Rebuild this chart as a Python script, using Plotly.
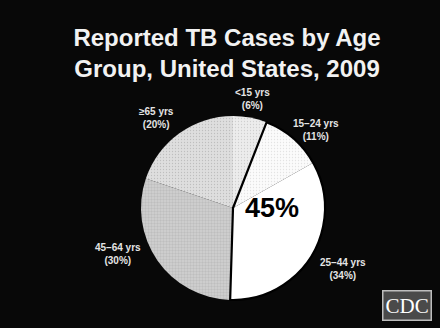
import plotly.graph_objects as go

# Data
age_groups = ["<15 yrs", "15–24 yrs", "25–44 yrs", "45–64 yrs", "≥65 yrs"]
percents = [6, 11, 34, 30, 20]
highlight_groups = ["<15", "15–44", "rest"]
highlight_values = [6, 45, 50]
highlight_label = "45%"

labels_text = [f"{a}<br>({p}%)" for a, p in zip(age_groups, percents)]
# label anchor positions (paper fractions) for each age-group label
label_x = [0.575, 0.718, 0.780, 0.268, 0.355]
label_y = [0.698, 0.604, 0.180, 0.226, 0.640]

fill_colors = ["#ececec", "#fbfbfb", "#ffffff", "#cdcdcd", "#dedede"]
pattern_fg = ["#bcbcbc", "#d4d4d4", "#ffffff", "#8c8c8c", "#a8a8a8"]
pattern_shapes = [".", ".", "", "+", "."]

dom_x = [(233 - 92) / 440, (233 + 92) / 440]
dom_y = [(120 - 92) / 328, (120 + 92) / 328]

fig = go.Figure()
fig.add_trace(go.Pie(
    labels=age_groups,
    values=percents,
    textinfo="none",
    sort=False,
    direction="clockwise",
    rotation=0,
    domain=dict(x=dom_x, y=dom_y),
    marker=dict(
        colors=fill_colors,
        line=dict(width=0),
        pattern=dict(shape=pattern_shapes, fgcolor=pattern_fg, fillmode="overlay",
                     size=3, solidity=0.15, fgopacity=0.6),
    ),
    showlegend=False,
    hoverinfo="skip",
))
# Outline of the 15–44 group (45%)
fig.add_trace(go.Pie(
    labels=highlight_groups,
    values=highlight_values,
    sort=False,
    direction="clockwise",
    rotation=0,
    domain=dict(x=dom_x, y=dom_y),
    textinfo="none",
    marker=dict(
        colors=["rgba(0,0,0,0)"] * 3,
        line=dict(color=["rgba(0,0,0,0)", "#000000", "rgba(0,0,0,0)"], width=[0, 2.2, 0]),
    ),
    showlegend=False,
    hoverinfo="skip",
))

annotations = []
for t, x, y in zip(labels_text, label_x, label_y):
    annotations.append(dict(
        text=f"<b>{t}</b>", x=x, y=y, xref="paper", yref="paper", showarrow=False,
        xanchor="center", yanchor="middle",
        font=dict(family="Liberation Sans, Arial", size=10, color="#e4e4e4"),
    ))
annotations += [
    dict(text=f"<b>{highlight_label}</b>", x=0.618, y=0.366, xref="paper", yref="paper",
         xanchor="center", yanchor="middle",
         showarrow=False, font=dict(family="Liberation Sans, Arial", size=27, color="#000000")),
    dict(text="CDC", x=0.924, y=0.07, xref="paper", yref="paper", showarrow=False,
         xanchor="center", yanchor="middle",
         font=dict(family="Liberation Serif, Times New Roman", size=21, color="#ffffff"),
         bgcolor="#4a4a4a", bordercolor="#bdbdbd", borderwidth=1.5, borderpad=2),
]

fig.update_layout(
    width=440, height=328,
    margin=dict(l=0, r=0, t=0, b=0),
    paper_bgcolor="#080808",
    plot_bgcolor="#080808",
    title=dict(
        text="<b>Reported TB Cases by Age<br>Group, United States, 2009</b>",
        x=0.516, xanchor="center",
        y=0.86, yanchor="top",
        font=dict(family="Liberation Sans, Arial", size=24, color="#f2f2f2"),
    ),
    annotations=annotations,
)

fig.write_html("out.html")
